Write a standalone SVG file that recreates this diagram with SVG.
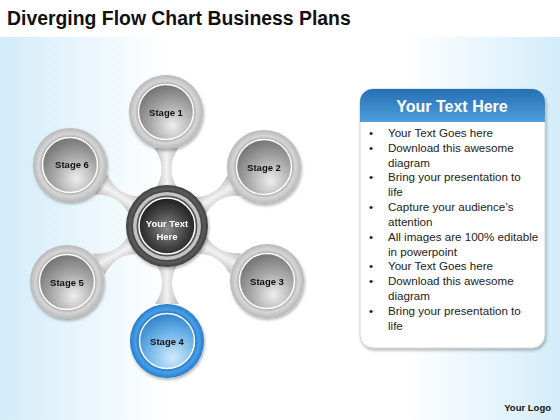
<svg xmlns="http://www.w3.org/2000/svg" width="560" height="420" viewBox="0 0 560 420">
<defs>
<linearGradient id="bgH" x1="0" y1="0" x2="1" y2="0">
<stop offset="0" stop-color="#d3ecf9"/>
<stop offset="0.3" stop-color="#ffffff"/>
<stop offset="0.72" stop-color="#ffffff"/>
<stop offset="1" stop-color="#d3edfa"/>
</linearGradient>
<linearGradient id="hdr" x1="0" y1="0" x2="0" y2="1">
<stop offset="0" stop-color="#256fb4"/>
<stop offset="1" stop-color="#4f9dd9"/>
</linearGradient>
<linearGradient id="stemG" x1="0" y1="0" x2="0" y2="1">
<stop offset="0" stop-color="#b9b9b9"/>
<stop offset="0.5" stop-color="#f2f2f2"/>
<stop offset="1" stop-color="#bcbcbc"/>
</linearGradient>
<radialGradient id="ringG" cx="0.5" cy="0.5" r="0.5">
<stop offset="0.72" stop-color="#9c9c9c"/>
<stop offset="0.84" stop-color="#d6d6d6"/>
<stop offset="1" stop-color="#b8b8b8"/>
</radialGradient>
<radialGradient id="ballG" cx="0.62" cy="0.75" r="0.8">
<stop offset="0" stop-color="#eeeeee"/>
<stop offset="0.5" stop-color="#a9a9a9"/>
<stop offset="1" stop-color="#6e6e6e"/>
</radialGradient>
<radialGradient id="ringB" cx="0.5" cy="0.5" r="0.5">
<stop offset="0.72" stop-color="#1b66b5"/>
<stop offset="0.85" stop-color="#46a0e8"/>
<stop offset="1" stop-color="#2a7ccc"/>
</radialGradient>
<radialGradient id="ballB" cx="0.6" cy="0.8" r="0.85">
<stop offset="0" stop-color="#cfeafb"/>
<stop offset="0.55" stop-color="#6cb3e8"/>
<stop offset="1" stop-color="#2a7cc6"/>
</radialGradient>
<radialGradient id="ringD" cx="0.5" cy="0.5" r="0.5">
<stop offset="0.78" stop-color="#2c2c2c"/>
<stop offset="0.9" stop-color="#5c5c5c"/>
<stop offset="1" stop-color="#3e3e3e"/>
</radialGradient>
<radialGradient id="ballD" cx="0.5" cy="0.55" r="0.6">
<stop offset="0" stop-color="#8a8a8a"/>
<stop offset="0.55" stop-color="#444444"/>
<stop offset="1" stop-color="#151515"/>
</radialGradient>
<filter id="sh" x="-20%" y="-20%" width="140%" height="140%">
<feDropShadow dx="1" dy="2" stdDeviation="1.5" flood-color="#000" flood-opacity="0.3"/>
</filter>
<path id="stem" d="M36 -12 Q57 2 78 -12 L78 12 Q57 -2 36 12 Z" fill="url(#stemG)"/>
</defs>
<style>
.lbl{font-family:"Liberation Sans",Arial,sans-serif;font-weight:bold;font-size:9.5px;fill:#111;text-anchor:middle}
.wl{font-family:"Liberation Sans",Arial,sans-serif;font-weight:bold;font-size:9.5px;fill:#fff;text-anchor:middle}
.txt{font-family:"Liberation Sans",Arial,sans-serif;font-size:11.6px;fill:#222}
.inner{stroke:#fff;stroke-width:1.5}
</style>
<rect x="0" y="0" width="560" height="420" fill="url(#bgH)"/>
<rect x="0" y="0" width="560" height="37" fill="#ffffff"/>
<text x="7" y="25" font-family="Liberation Sans,Arial,sans-serif" font-weight="bold" font-size="19.4" fill="#111">Diverging Flow Chart Business Plans</text>

<g id="connectors">
<use href="#stem" transform="translate(167 226) rotate(-90.5)"/>
<use href="#stem" transform="translate(167 226) rotate(-31.3)"/>
<use href="#stem" transform="translate(167 226) rotate(28.8)"/>
<use href="#stem" transform="translate(167 226) rotate(90)"/>
<use href="#stem" transform="translate(167 226) rotate(150.8)"/>
<use href="#stem" transform="translate(167 226) rotate(212.2)"/>
</g>

<g id="stage1" filter="url(#sh)">
<circle cx="166" cy="112" r="37" fill="url(#ringG)"/>
<circle cx="166" cy="112" r="27.5" fill="url(#ballG)" class="inner"/>
<text class="lbl" x="166" y="116">Stage 1</text>
</g>
<g id="stage2" filter="url(#sh)">
<circle cx="264" cy="167" r="37" fill="url(#ringG)"/>
<circle cx="264" cy="167" r="27.5" fill="url(#ballG)" class="inner"/>
<text class="lbl" x="264" y="170.5">Stage 2</text>
</g>
<g id="stage3" filter="url(#sh)">
<circle cx="267" cy="281" r="37" fill="url(#ringG)"/>
<circle cx="267" cy="281" r="27.5" fill="url(#ballG)" class="inner"/>
<text class="lbl" x="267" y="285">Stage 3</text>
</g>
<g id="stage4" filter="url(#sh)">
<circle cx="167" cy="341" r="37" fill="url(#ringB)"/>
<circle cx="167" cy="341" r="27.5" fill="url(#ballB)" class="inner"/>
<text class="lbl" x="167" y="344.5">Stage 4</text>
</g>
<g id="stage5" filter="url(#sh)">
<circle cx="67" cy="282" r="37" fill="url(#ringG)"/>
<circle cx="67" cy="282" r="27.5" fill="url(#ballG)" class="inner"/>
<text class="lbl" x="67" y="285.5">Stage 5</text>
</g>
<g id="stage6" filter="url(#sh)">
<circle cx="70" cy="165" r="37" fill="url(#ringG)"/>
<circle cx="70" cy="165" r="27.5" fill="url(#ballG)" class="inner"/>
<text class="lbl" x="72" y="167.5">Stage 6</text>
</g>
<g id="center" filter="url(#sh)">
<circle cx="167" cy="226" r="41" fill="url(#ringD)"/>
<circle cx="167" cy="226" r="34" fill="#c4c4c4"/>
<circle cx="167" cy="226" r="30.5" fill="#555555"/>
<circle cx="167" cy="226" r="28" fill="url(#ballD)" class="inner"/>
<text class="wl" x="167" y="226.5">Your Text</text>
<text class="wl" x="167" y="240">Here</text>
</g>

<g id="panel">
<rect x="360" y="89" width="185" height="259" rx="13" fill="#ffffff" stroke="#c9c9c9" stroke-width="0.8" filter="url(#sh)"/>
<path d="M360 122 V102 A13 13 0 0 1 373 89 H532 A13 13 0 0 1 545 102 V122 Z" fill="url(#hdr)"/>
<text x="452" y="112" font-family="Liberation Sans,Arial,sans-serif" font-weight="bold" font-size="16" fill="#fff" text-anchor="middle">Your Text Here</text>
<g class="txt">
<text x="369" y="137">•</text><text x="388" y="137">Your Text Goes here</text>
<text x="369" y="152">•</text><text x="388" y="152">Download this awesome</text>
<text x="388" y="167">diagram</text>
<text x="369" y="181">•</text><text x="388" y="181">Bring your presentation to</text>
<text x="388" y="196">life</text>
<text x="369" y="211">•</text><text x="388" y="211">Capture your audience’s</text>
<text x="388" y="226">attention</text>
<text x="369" y="241">•</text><text x="388" y="241">All images are 100% editable</text>
<text x="388" y="256">in powerpoint</text>
<text x="369" y="270">•</text><text x="388" y="270">Your Text Goes here</text>
<text x="369" y="285">•</text><text x="388" y="285">Download this awesome</text>
<text x="388" y="300">diagram</text>
<text x="369" y="315">•</text><text x="388" y="315">Bring your presentation to</text>
<text x="388" y="330">life</text>
</g>
</g>
<text x="551" y="411" font-family="Liberation Sans,Arial,sans-serif" font-weight="bold" font-size="9.5" fill="#111" text-anchor="end">Your Logo</text>
</svg>
